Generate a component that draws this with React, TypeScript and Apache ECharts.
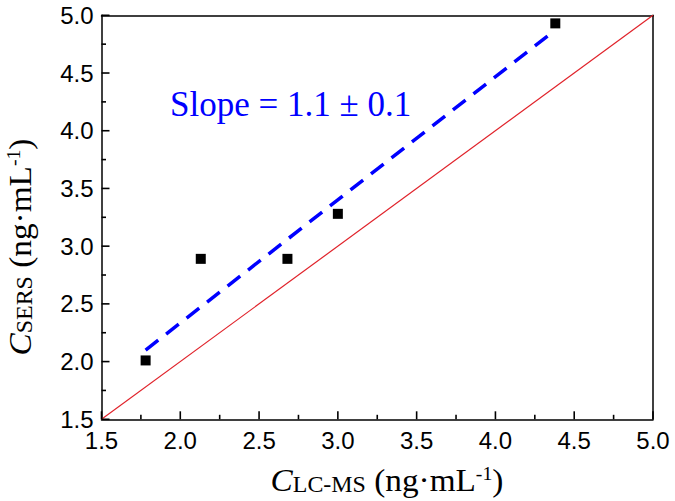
import React, { useEffect, useRef } from "react";
import * as echarts from "echarts";

// Measured data points (C_LC-MS, C_SERS)
const xValues = [1.78, 2.13, 2.68, 3.0, 4.38];
const yValues = [2.01, 2.89, 2.89, 3.28, 4.93];
// Fitted line endpoints (slope ≈ 1.1)
const fitX = [1.78, 4.34];
const fitY = [2.1, 4.83];
// Reference y = x line
const refX = [1.5, 5.0];
const refY = [1.5, 5.0];
// Axis settings and tick values
const axisMin = 1.5;
const axisMax = 5.0;
const axisInterval = 0.5;
const majorTicks = [1.5, 2.0, 2.5, 3.0, 3.5, 4.0, 4.5, 5.0];
const minorTicks = [1.75, 2.25, 2.75, 3.25, 3.75, 4.25, 4.75];
const slopeText = "Slope = 1.1 ± 0.1";

export default function App() {
  const ref = useRef<HTMLDivElement>(null);
  useEffect(() => {
    document.body.style.margin = "0";
    if (!ref.current) return;
    const chart = echarts.init(ref.current, undefined, { renderer: "svg" });
    const labelCommon = {
      color: "#000",
      fontSize: 24,
      fontFamily: "'Liberation Sans', Arial, sans-serif",
      formatter: (v: number) => v.toFixed(1),
      showMinLabel: true,
      showMaxLabel: true,
    };
    const mainAxis = (margin: number) => ({
      type: "value",
      min: axisMin,
      max: axisMax,
      interval: axisInterval,
      axisLine: { show: true, onZero: false, lineStyle: { color: "#000", width: 1.5 } },
      axisTick: { show: false },
      splitLine: { show: false },
      axisLabel: { ...labelCommon, margin },
    });
    const borderAxis = (pos: string) => ({
      type: "value",
      position: pos,
      min: axisMin,
      max: axisMax,
      interval: axisInterval,
      axisLine: { show: true, onZero: false, lineStyle: { color: "#000", width: 1.5 } },
      axisTick: { show: false },
      axisLabel: { show: false },
      splitLine: { show: false },
    });
    const serif = "'Liberation Serif', 'Times New Roman', serif";
    const nameRich = {
      c: { fontFamily: serif, fontStyle: "italic", fontSize: 32, lineHeight: 32, verticalAlign: "top", color: "#000" },
      sub: { fontFamily: serif, fontSize: 23, lineHeight: 9, verticalAlign: "bottom", color: "#000" },
      t: { fontFamily: serif, fontSize: 32, lineHeight: 32, verticalAlign: "top", color: "#000" },
      sup: { fontFamily: serif, fontSize: 19, lineHeight: 17, verticalAlign: "top", color: "#000" },
    };
    const majorLen = 8;
    const minorLen = 4.5;
    const tickW = 1.6;
    const xTickItem = (v: number, len: number) => ({
      value: [v, axisMin],
      symbolSize: [tickW, len],
      symbolOffset: [0, -len / 2],
    });
    const yTickItem = (v: number, len: number) => ({
      value: [axisMin, v],
      symbolSize: [len, tickW],
      symbolOffset: [len / 2, 0],
    });
    const tickData = [
      ...majorTicks.map((v) => xTickItem(v, majorLen)),
      ...minorTicks.map((v) => xTickItem(v, minorLen)),
      ...majorTicks.map((v) => yTickItem(v, majorLen)),
      ...minorTicks.map((v) => yTickItem(v, minorLen)),
    ];
    chart.setOption({
      animation: false,
      backgroundColor: "#fff",
      grid: {
        left: 101.5,
        top: 15.3,
        right: 22,
        bottom: 81.7,
        outerBoundsMode: "none",
      },
      xAxis: [mainAxis(9), borderAxis("top")],
      yAxis: [mainAxis(8), borderAxis("right")],
      graphic: [
        {
          type: "text",
          x: 387,
          y: 480,
          scaleX: 1.04,
          style: {
            text: "{c|C}{sub|LC-MS}{t| (ng·mL}{sup|-1}{t|)}",
            rich: nameRich,
            align: "center",
            verticalAlign: "middle",
          },
        },
        {
          type: "text",
          x: 20,
          y: 247,
          rotation: Math.PI / 2,
          scaleX: 1.04,
          style: {
            text: "{c|C}{sub|SERS}{t| (ng·mL}{sup|-1}{t|)}",
            rich: nameRich,
            align: "center",
            verticalAlign: "middle",
          },
        },
        {
          type: "text",
          x: 170,
          y: 104,
          style: {
            text: slopeText,
            fontFamily: serif,
            fontSize: 35,
            fill: "#0000ff",
            align: "left",
            verticalAlign: "middle",
          },
        },
      ],
      series: [
        {
          type: "line",
          data: refX.map((x, i) => [x, refY[i]]),
          symbol: "none",
          lineStyle: { color: "#e0222a", width: 1.2 },
          z: 1,
        },
        {
          type: "line",
          data: fitX.map((x, i) => [x, fitY[i]]),
          symbol: "none",
          lineStyle: { color: "#0000ff", width: 3.5, type: [16, 10] },
          z: 2,
        },
        {
          type: "scatter",
          data: xValues.map((x, i) => [x, yValues[i]]),
          symbol: "rect",
          symbolSize: 10,
          itemStyle: { color: "#000", opacity: 1 },
          z: 3,
        },
        {
          type: "scatter",
          data: tickData,
          symbol: "rect",
          clip: false,
          silent: true,
          itemStyle: { color: "#000", opacity: 1 },
          z: 4,
        },
      ],
    });
    return () => chart.dispose();
  }, []);
  return <div ref={ref} style={{ width: 675, height: 501 }} />;
}
